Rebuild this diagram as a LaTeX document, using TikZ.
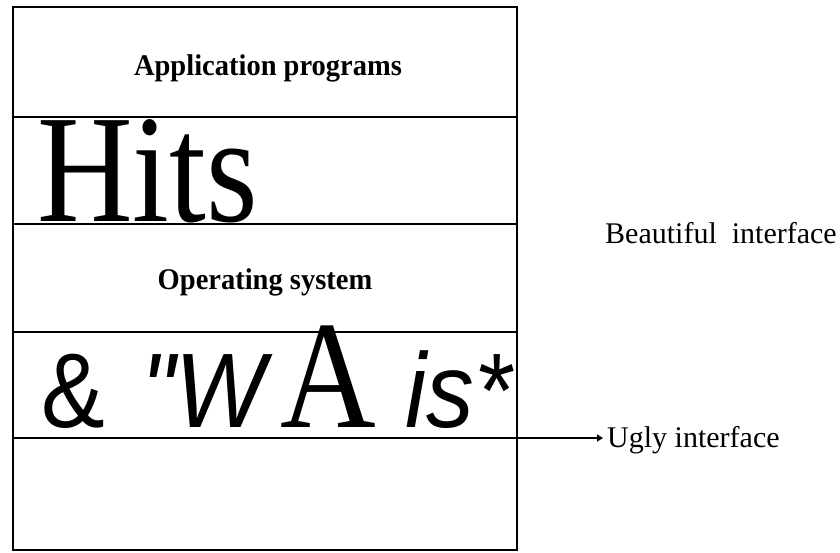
\documentclass[tikz,border=0pt]{standalone}
\usepackage{fontspec}
\setmainfont{Liberation Serif}
\newfontfamily\sansfam{Liberation Sans}
\usetikzlibrary{arrows.meta}
\begin{document}
\begin{tikzpicture}[x=1pt,y=-1pt,
  frame/.style={line width=1.9pt},
  label/.style={inner sep=0pt, font=\fontsize{30}{30}\selectfont},
  rowlabel/.style={inner sep=0pt, font=\fontsize{30}{30}\selectfont\bfseries, xscale=0.95},
  bigserif/.style={inner sep=0pt, anchor=base west, font=\fontsize{154}{154}\selectfont, xscale=0.86},
  bigsans/.style={inner sep=0pt, anchor=base west, font=\sansfam\itshape\fontsize{106}{106}\selectfont, xscale=0.9}]
  \useasboundingbox (0,0) rectangle (840,552);
  % layered stack
  \coordinate (tl) at (13,7);
  \coordinate (br) at (517,550);
  \draw[frame] (tl) rectangle (br);
  \foreach \y/\n in {117/a,224/b,332/c}{
    \coordinate (l\n) at (13,\y);
    \coordinate (r\n) at (517,\y);
    \draw[frame] (l\n) -- (r\n);
  }
  \coordinate (ld) at (13,438);
  \coordinate (tip) at (603,438);
  \draw[frame, -{Triangle[length=6pt,width=7pt]}] (ld) -- (tip);
  % layer contents
  \node[rowlabel] (apps) at (268,68) {Application programs};
  \node[bigserif] (hits) at (37,221) {Hits};
  \node[rowlabel] (os) at (265,282) {Operating system};
  \node[bigsans, font=\sansfam\fontsize{106}{106}\selectfont] (amp) at (41,427) {\&};
  \node[bigsans] (w) at (141,427) {"W};
  \node[bigserif] (abig) at (280,427) {A};
  \node[bigsans] (is) at (405,427) {is*};
  % interface labels
  \node[label, anchor=west] (beau) at (605,233) {Beautiful~~interface};
  \node[label, anchor=west] (ugly) at (607,440) {Ugly interface};
\end{tikzpicture}
\end{document}
